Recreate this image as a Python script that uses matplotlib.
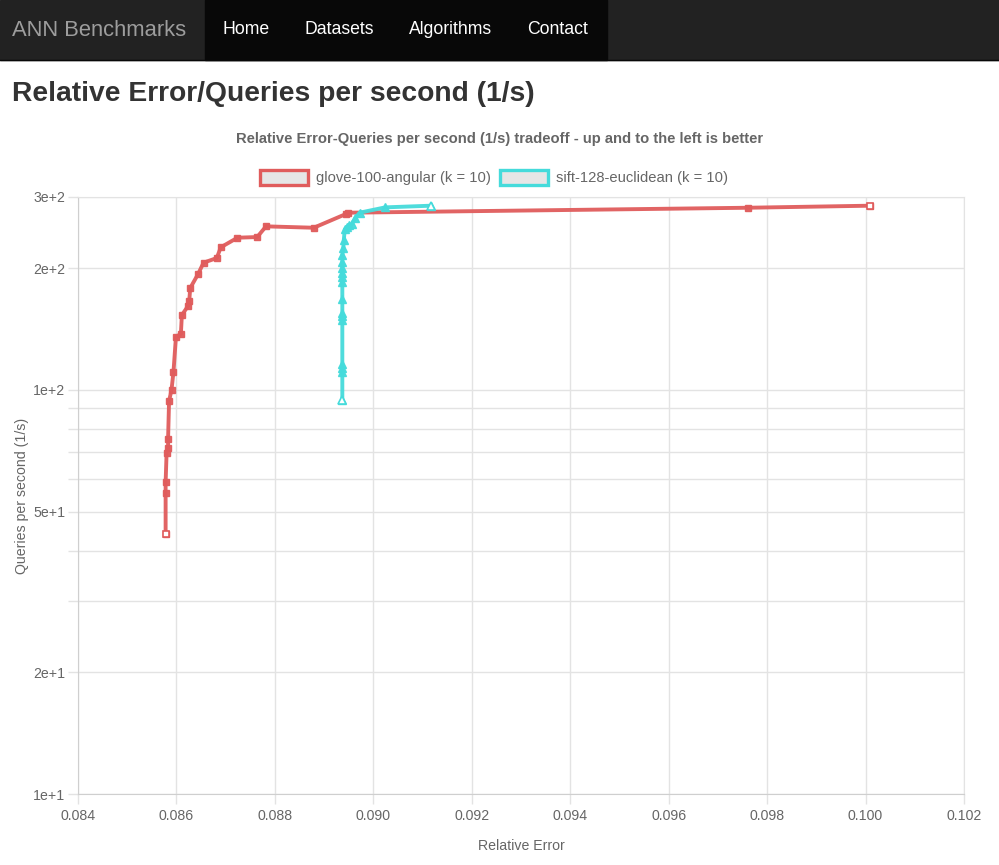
import numpy as np
import matplotlib.pyplot as plt
from matplotlib.patches import Rectangle
from matplotlib.ticker import FixedLocator, NullFormatter

plt.rcParams['font.family'] = ['Liberation Sans', 'DejaVu Sans']

# data
glove_err = [0.08578, 0.08578, 0.08578, 0.08580, 0.08583, 0.08583, 0.08585, 0.08590,
             0.08594, 0.08599, 0.08609, 0.08611, 0.08624, 0.08626, 0.08628, 0.08644,
             0.08655, 0.08682, 0.08690, 0.08724, 0.08764, 0.08782, 0.08879, 0.08944,
             0.08948, 0.09762, 0.10009]
glove_qps = [43.9, 55.7, 59.0, 69.9, 71.7, 75.5, 93.8, 100.0,
             110.9, 135.3, 137.4, 153.1, 161.5, 165.9, 178.6, 193.4,
             206.3, 211.9, 225.2, 237.9, 238.8, 253.8, 251.8, 272.2,
             274.3, 282.2, 285.5]

sift_err = [0.08937, 0.08937, 0.08937, 0.08937, 0.08937, 0.08937, 0.08937, 0.08937,
            0.08937, 0.08937, 0.08937, 0.08937, 0.08937, 0.08937, 0.08939, 0.08940,
            0.08942, 0.08947, 0.08951, 0.08956, 0.08963, 0.08972, 0.09024, 0.09117]
sift_qps = [94.4, 110.9, 113.0, 115.8, 148.8, 152.3, 155.1, 167.5,
            185.1, 189.8, 194.2, 199.7, 207.5, 215.6, 223.9, 234.8,
            249.5, 253.3, 255.8, 256.7, 265.7, 274.3, 282.8, 285.5]

series = [("glove-100-angular (k = 10)", glove_err, glove_qps, '#e05c5c', 's', 5),
          ("sift-128-euclidean (k = 10)", sift_err, sift_qps, '#45dbdb', '^', 6)]

x_ticks = [0.084, 0.086, 0.088, 0.090, 0.092, 0.094, 0.096, 0.098, 0.100, 0.102]
y_labeled = {10: "1e+1", 20: "2e+1", 50: "5e+1", 100: "1e+2", 200: "2e+2", 300: "3e+2"}
y_grid = [10, 20, 30, 40, 50, 60, 70, 80, 90, 100, 200, 300]

W, H = 999, 865
fig = plt.figure(figsize=(W / 100, H / 100), dpi=100)

# page chrome: navbar + heading
page = fig.add_axes([0, 0, 1, 1])
page.set_xlim(0, W)
page.set_ylim(H, 0)
page.axis('off')
page.add_patch(Rectangle((0, 0), W, 60, color='#222222'))
page.add_patch(Rectangle((205, 0), 402, 60, color='#080808'))
page.plot([0, W], [60, 60], color='#080808', lw=1)
page.text(12, 30, "ANN Benchmarks", color='#9d9d9d', fontsize=15.8, va='center')
for label, cx in [("Home", 246), ("Datasets", 339), ("Algorithms", 451), ("Contact", 558)]:
    page.text(cx, 30, label, color='white', fontsize=12.7, va='center', ha='center')
page.text(12, 94, "Relative Error/Queries per second (1/s)", color='#333333',
          fontsize=20.3, va='center', fontweight='bold')
page.text(500, 139, "Relative Error-Queries per second (1/s) tradeoff - up and to the left is better",
          color='#666666', fontsize=10.6, fontweight='bold', va='center', ha='center')

# legend drawn like chart.js boxes
for (label, _, _, color, _, _), bx in zip(series, [259, 499]):
    page.add_patch(Rectangle((bx + 1, 170), 48, 15, facecolor='#e6e6e6',
                             edgecolor=color, lw=2.4))
    page.text(bx + 57, 178, label, color='#666666', fontsize=10.6, va='center')

ax = fig.add_axes([78 / W, 1 - 794 / H, (964 - 78) / W, (794 - 197) / H])
ax.set_yscale('log')
ax.set_xlim(0.084, 0.102)
ax.set_ylim(10, 300)

for label, xs, ys, color, mk, ms in series:
    ax.plot(xs, ys, color=color, lw=2.8, marker=mk, ms=ms, mfc=color,
            mec=color, alpha=0.95, zorder=3)
    # end points are drawn hollow
    ax.plot([xs[0], xs[-1]], [ys[0], ys[-1]], ls='none', marker=mk, ms=ms,
            mfc='white', mec=color, mew=1.2, zorder=4)

ax.xaxis.set_major_locator(FixedLocator(x_ticks))
ax.set_xticklabels([f"{t:.3f}" for t in x_ticks])
ax.yaxis.set_major_locator(FixedLocator(y_grid))
ax.yaxis.set_minor_formatter(NullFormatter())
ax.set_yticklabels([y_labeled.get(v, "") for v in y_grid])
ax.grid(True, color='#e3e3e3', lw=1)
ax.tick_params(axis='both', colors='#e3e3e3', labelcolor='#666666', labelsize=10.2,
               length=7.5, width=1, pad=1.5)
ax.tick_params(axis='x', pad=3)
ax.tick_params(axis='y', which='minor', length=0)
for s in ax.spines.values():
    s.set_color('#e3e3e3')
ax.spines['left'].set_color('#cfcfcf')
ax.spines['bottom'].set_color('#cfcfcf')
ax.set_xlabel("Relative Error", color='#666666', fontsize=10.2, labelpad=12)
ax.set_ylabel("Queries per second (1/s)", color='#666666', fontsize=10.2, labelpad=3)

fig.savefig("out.png", dpi=100)
